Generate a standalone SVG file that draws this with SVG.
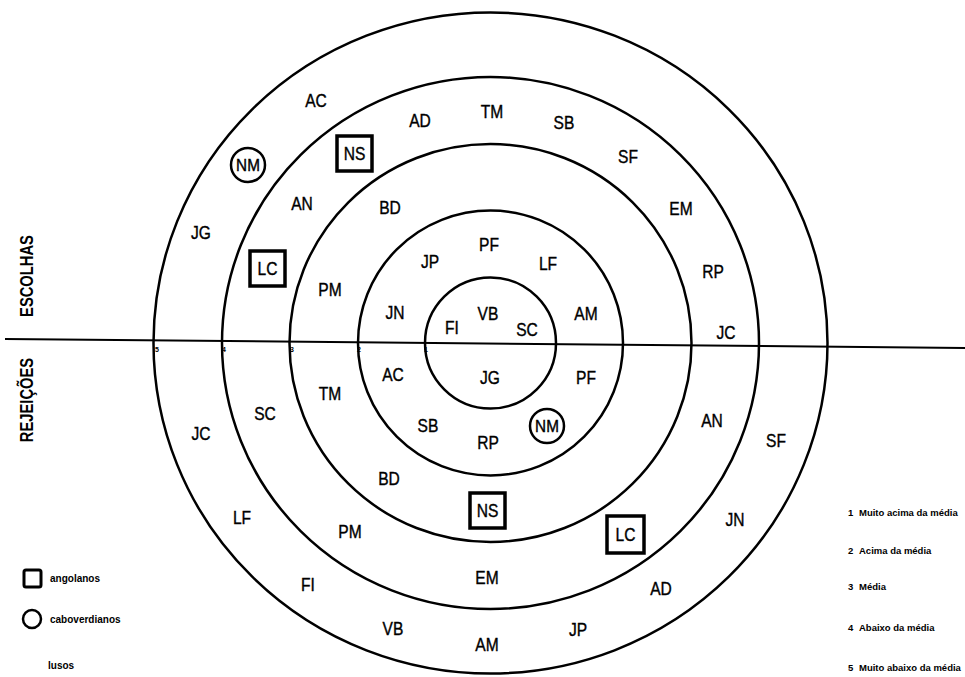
<svg xmlns="http://www.w3.org/2000/svg" width="965" height="677" viewBox="0 0 965 677">
<style>
.ring{fill:none;stroke:#000;stroke-width:2.5}
.axis{fill:none;stroke:#000;stroke-width:2}
.box{fill:#fff;stroke:#000;stroke-width:3.5}
.circ{fill:#fff;stroke:#000;stroke-width:2.5}
.l{font-family:"Liberation Sans",Arial,sans-serif;font-size:19px;text-anchor:middle;dominant-baseline:central;fill:#000;stroke:#000;stroke-width:0.4;transform:scale(0.82,1)}
.nm{font-family:"Liberation Sans",Arial,sans-serif;font-size:17px;text-anchor:middle;dominant-baseline:central;fill:#000;stroke:#000;stroke-width:0.4;transform:scale(0.9,1)}
.side{font-family:"Liberation Sans",Arial,sans-serif;font-size:18px;font-weight:bold;text-anchor:middle;dominant-baseline:central;fill:#000}
.leg{font-family:"Liberation Sans",Arial,sans-serif;font-size:10px;font-weight:bold;dominant-baseline:central;fill:#000}
.legs{font-family:"Liberation Sans",Arial,sans-serif;font-size:9.5px;font-weight:bold;dominant-baseline:central;fill:#000}
.tick{font-family:"Liberation Sans",Arial,sans-serif;font-size:7px;font-weight:bold;text-anchor:middle;fill:#000}
</style>
<rect width="965" height="677" fill="#fff"/>

<g id="rings">
<ellipse class="ring" cx="490.5" cy="343" rx="337" ry="330.5"/>
<ellipse class="ring" cx="490.5" cy="343" rx="268.5" ry="266"/>
<ellipse class="ring" cx="490.5" cy="343" rx="201" ry="199"/>
<ellipse class="ring" cx="490.5" cy="343" rx="132.5" ry="132.5"/>
<ellipse class="ring" cx="490.5" cy="343" rx="65.5" ry="65.5"/>
</g>

<g id="connectors">
<line class="axis" x1="5" y1="339" x2="965" y2="348"/>
</g>

<g id="scale-ticks">
<text class="tick" x="157" y="352">5</text>
<text class="tick" x="224" y="352">4</text>
<text class="tick" x="292" y="352">3</text>
<text class="tick" x="359" y="352">2</text>
<text class="tick" x="426" y="352">1</text>
</g>

<g id="side-labels">
<text class="side" transform="translate(26,276) rotate(-90) scale(0.82,1)">ESCOLHAS</text>
<text class="side" transform="translate(26,400) rotate(-90) scale(0.82,1)">REJEIÇÕES</text>
</g>

<!-- Escolhas (upper half) -->
<g id="up-AC" transform="translate(316,100)"><text class="l">AC</text></g>
<g id="up-AD" transform="translate(420,120)"><text class="l">AD</text></g>
<g id="up-TM" transform="translate(492,111)"><text class="l">TM</text></g>
<g id="up-SB" transform="translate(564,122)"><text class="l">SB</text></g>
<g id="up-SF" transform="translate(628,156)"><text class="l">SF</text></g>
<g id="up-EM" transform="translate(681,208)"><text class="l">EM</text></g>
<g id="up-RP" transform="translate(713,271)"><text class="l">RP</text></g>
<g id="up-JC" transform="translate(726,332)"><text class="l">JC</text></g>
<g id="up-NM" transform="translate(248,165)"><circle class="circ" r="17"/><text class="nm">NM</text></g>
<g id="up-NS" transform="translate(354.5,153.5)"><rect class="box" x="-17.5" y="-17.5" width="35" height="35"/><text class="l">NS</text></g>
<g id="up-AN" transform="translate(302,203)"><text class="l">AN</text></g>
<g id="up-BD" transform="translate(390,207)"><text class="l">BD</text></g>
<g id="up-JG" transform="translate(201,232)"><text class="l">JG</text></g>
<g id="up-LC" transform="translate(267.5,268.5)"><rect class="box" x="-17.5" y="-17.5" width="35" height="35"/><text class="l">LC</text></g>
<g id="up-PM" transform="translate(330,289)"><text class="l">PM</text></g>
<g id="up-JP" transform="translate(430,261)"><text class="l">JP</text></g>
<g id="up-PF" transform="translate(489,244)"><text class="l">PF</text></g>
<g id="up-LF" transform="translate(548,263)"><text class="l">LF</text></g>
<g id="up-JN" transform="translate(395,312)"><text class="l">JN</text></g>
<g id="up-FI" transform="translate(452,327)"><text class="l">FI</text></g>
<g id="up-VB" transform="translate(488,313)"><text class="l">VB</text></g>
<g id="up-SC" transform="translate(527,329)"><text class="l">SC</text></g>
<g id="up-AM" transform="translate(586,313)"><text class="l">AM</text></g>

<!-- Rejeicoes (lower half) -->
<g id="dn-AC" transform="translate(393,374)"><text class="l">AC</text></g>
<g id="dn-JG" transform="translate(490,377)"><text class="l">JG</text></g>
<g id="dn-PF" transform="translate(586,377)"><text class="l">PF</text></g>
<g id="dn-TM" transform="translate(330,393)"><text class="l">TM</text></g>
<g id="dn-SC" transform="translate(265,413)"><text class="l">SC</text></g>
<g id="dn-JC" transform="translate(201,433)"><text class="l">JC</text></g>
<g id="dn-SB" transform="translate(428,425)"><text class="l">SB</text></g>
<g id="dn-RP" transform="translate(488,442)"><text class="l">RP</text></g>
<g id="dn-NM" transform="translate(547,426)"><circle class="circ" r="17"/><text class="nm">NM</text></g>
<g id="dn-BD" transform="translate(389,478)"><text class="l">BD</text></g>
<g id="dn-NS" transform="translate(487.5,510.5)"><rect class="box" x="-17.5" y="-17.5" width="35" height="35"/><text class="l">NS</text></g>
<g id="dn-LC" transform="translate(625.5,534.5)"><rect class="box" x="-18.5" y="-18.5" width="37" height="37"/><text class="l">LC</text></g>
<g id="dn-AN" transform="translate(712,420)"><text class="l">AN</text></g>
<g id="dn-SF" transform="translate(776,440)"><text class="l">SF</text></g>
<g id="dn-JN" transform="translate(735,519)"><text class="l">JN</text></g>
<g id="dn-LF" transform="translate(242,517)"><text class="l">LF</text></g>
<g id="dn-PM" transform="translate(350,531)"><text class="l">PM</text></g>
<g id="dn-EM" transform="translate(487,577)"><text class="l">EM</text></g>
<g id="dn-FI" transform="translate(308,584)"><text class="l">FI</text></g>
<g id="dn-AD" transform="translate(661,588)"><text class="l">AD</text></g>
<g id="dn-VB" transform="translate(393,628)"><text class="l">VB</text></g>
<g id="dn-AM" transform="translate(487,644)"><text class="l">AM</text></g>
<g id="dn-JP" transform="translate(578,629)"><text class="l">JP</text></g>

<g id="legend-symbols">
<rect x="24" y="570" width="17" height="17" rx="2" fill="none" stroke="#000" stroke-width="3"/>
<text class="leg" x="50" y="578">angolanos</text>
<circle cx="32" cy="619" r="9" fill="none" stroke="#000" stroke-width="2.5"/>
<text class="leg" x="50" y="619">caboverdianos</text>
<text class="leg" x="48" y="665">lusos</text>
</g>

<g id="legend-scale">
<text class="legs" x="848" y="512">1</text><text class="legs" x="859" y="512">Muito acima da média</text>
<text class="legs" x="848" y="550">2</text><text class="legs" x="859" y="550">Acima da média</text>
<text class="legs" x="848" y="586">3</text><text class="legs" x="859" y="586">Média</text>
<text class="legs" x="848" y="627">4</text><text class="legs" x="859" y="627">Abaixo da média</text>
<text class="legs" x="848" y="667">5</text><text class="legs" x="859" y="667">Muito abaixo da média</text>
</g>
</svg>
